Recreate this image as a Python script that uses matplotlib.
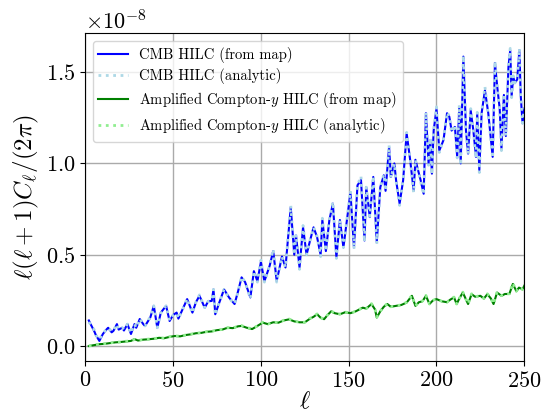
#!/usr/bin/env python3
import matplotlib
matplotlib.use("Agg")
import matplotlib.pyplot as plt

# values (units of 1e-8)
cmb_ell = [2, 3, 5, 6, 8, 10, 12, 13, 15, 16, 18, 19, 21, 22, 24, 26, 28, 29, 31, 33,
           34, 37, 39, 41, 43, 46, 48, 50, 52, 53, 55, 58, 61, 63, 65, 68, 70, 72, 73, 74,
           76, 79, 82, 85, 87, 89, 91, 94, 96, 98, 100, 102, 105, 107, 109, 112, 114, 117, 119, 120,
           122, 124, 126, 128, 130, 132, 134, 135, 137, 139, 141, 143, 145, 147, 151, 153, 155, 157, 159, 160,
           162, 164, 166, 168, 170, 171, 173, 174, 176, 177, 179, 181, 183, 185, 187, 188, 191, 192.7, 194, 195.5,
           196.5, 197.4, 198.4, 200, 201.6, 204, 206, 207.3, 208.6, 210.5, 211.8, 213, 213.8, 215.3, 216.8, 218, 219.5, 221, 222.5, 223.2,
           224.4, 225.7, 227.6, 229.5, 232, 233.3, 234.6, 236, 237, 238.4, 239.5, 241, 242, 242.8, 243.7, 244.6, 246, 247.2, 248, 249,
           250]
cmb_map = [0.14, 0.12, 0.083, 0.06, 0.028, 0.066, 0.09, 0.10, 0.075, 0.083, 0.12, 0.09, 0.10, 0.085, 0.12, 0.066, 0.12, 0.10, 0.148, 0.12,
           0.11, 0.156, 0.22, 0.10, 0.183, 0.22, 0.137, 0.17, 0.183, 0.15, 0.193, 0.257, 0.183, 0.24, 0.275, 0.21, 0.245, 0.247, 0.31, 0.174,
           0.23, 0.31, 0.264, 0.23, 0.30, 0.376, 0.35, 0.266, 0.41, 0.355, 0.46, 0.355, 0.44, 0.52, 0.357, 0.49, 0.43, 0.76, 0.50, 0.605,
           0.43, 0.65, 0.50, 0.578, 0.65, 0.596, 0.50, 0.69, 0.52, 0.69, 0.78, 0.486, 0.69, 0.54, 0.84, 0.54, 0.88, 0.91, 0.578, 0.87,
           0.706, 0.926, 0.568, 0.87, 0.935, 0.85, 1.09, 0.926, 1.0, 0.907, 0.78, 0.907, 1.165, 1.02, 0.85, 1.02, 0.907, 0.834, 1.275, 1.0,
           1.128, 0.944, 1.18, 1.30, 1.07, 1.128, 1.275, 1.256, 1.18, 1.20, 1.036, 1.31, 1.0, 1.585, 1.18, 1.054, 1.29, 1.18, 1.036, 1.275,
           0.963, 1.275, 1.40, 1.275, 1.036, 1.55, 1.42, 1.30, 1.08, 1.375, 1.15, 1.53, 1.62, 1.37, 1.476, 1.44, 1.46, 1.62, 1.37, 1.22,
           1.30]
cmb_analytic = [0.13, 0.12, 0.09, 0.06, 0.035, 0.07, 0.09, 0.10, 0.08, 0.085, 0.12, 0.09, 0.10, 0.09, 0.12, 0.07, 0.12, 0.10, 0.15, 0.12,
                0.11, 0.16, 0.22, 0.10, 0.18, 0.22, 0.14, 0.17, 0.18, 0.15, 0.19, 0.26, 0.18, 0.24, 0.28, 0.21, 0.245, 0.25, 0.31, 0.17,
                0.23, 0.31, 0.26, 0.23, 0.30, 0.38, 0.35, 0.26, 0.41, 0.35, 0.47, 0.35, 0.44, 0.53, 0.35, 0.49, 0.43, 0.77, 0.50, 0.61,
                0.42, 0.66, 0.50, 0.58, 0.65, 0.60, 0.49, 0.70, 0.52, 0.69, 0.79, 0.48, 0.69, 0.54, 0.85, 0.53, 0.88, 0.93, 0.57, 0.87,
                0.71, 0.93, 0.56, 0.87, 0.94, 0.85, 1.10, 0.92, 1.0, 0.90, 0.77, 0.91, 1.17, 1.02, 0.84, 1.02, 0.90, 0.83, 1.28, 0.99,
                1.14, 0.94, 1.19, 1.31, 1.06, 1.13, 1.28, 1.26, 1.17, 1.21, 1.03, 1.32, 0.99, 1.59, 1.17, 1.05, 1.30, 1.18, 1.03, 1.28,
                0.95, 1.28, 1.42, 1.27, 1.03, 1.56, 1.42, 1.30, 1.07, 1.38, 1.15, 1.54, 1.63, 1.36, 1.48, 1.44, 1.46, 1.63, 1.36, 1.22,
                1.30]

y_ell = [2, 5, 8, 11, 14, 17, 20, 23, 26, 28, 30, 33, 36, 39, 42, 45, 48, 51, 54, 57,
         60, 63, 66, 69, 72, 75, 78, 81, 84, 87, 89, 92, 95, 98, 101, 104, 107, 110, 113, 116,
         119, 122, 125, 128, 130, 132, 134, 136, 138, 140, 142, 145, 148, 151, 154, 156, 158, 160, 163, 165,
         166, 168, 170, 172, 174, 177, 180, 183, 186, 188, 190, 192, 194, 196, 198, 200, 203, 206, 208, 210,
         211.5, 213, 215, 218, 220, 222, 225, 227, 229, 231, 232.5, 234.5, 237, 239, 241.5, 243.5, 245.5, 247, 249, 250]
y_map = [0.0, 0.005, 0.01, 0.012, 0.016, 0.02, 0.022, 0.025, 0.028, 0.038, 0.03, 0.035, 0.037, 0.04, 0.045, 0.043, 0.05, 0.055, 0.053, 0.06,
         0.064, 0.07, 0.072, 0.078, 0.08, 0.087, 0.09, 0.10, 0.098, 0.108, 0.11, 0.10, 0.093, 0.11, 0.128, 0.12, 0.13, 0.128, 0.14, 0.146,
         0.135, 0.13, 0.13, 0.15, 0.16, 0.174, 0.155, 0.147, 0.17, 0.19, 0.18, 0.174, 0.185, 0.18, 0.19, 0.20, 0.21, 0.205, 0.23, 0.20,
         0.156, 0.19, 0.215, 0.23, 0.215, 0.22, 0.225, 0.238, 0.275, 0.22, 0.24, 0.245, 0.275, 0.23, 0.25, 0.257, 0.245, 0.24, 0.255, 0.266,
         0.23, 0.26, 0.293, 0.23, 0.284, 0.27, 0.275, 0.26, 0.284, 0.26, 0.23, 0.293, 0.275, 0.285, 0.285, 0.34, 0.30, 0.32, 0.31, 0.33]
y_analytic = [0.0, 0.006, 0.01, 0.013, 0.016, 0.021, 0.022, 0.026, 0.028, 0.036, 0.031, 0.035, 0.038, 0.04, 0.046, 0.043, 0.051, 0.055, 0.054, 0.06,
              0.065, 0.07, 0.073, 0.078, 0.081, 0.087, 0.091, 0.10, 0.099, 0.108, 0.112, 0.10, 0.095, 0.11, 0.13, 0.12, 0.131, 0.128, 0.141, 0.148,
              0.135, 0.131, 0.13, 0.152, 0.16, 0.176, 0.155, 0.148, 0.17, 0.192, 0.18, 0.175, 0.186, 0.18, 0.19, 0.20, 0.212, 0.205, 0.232, 0.20,
              0.158, 0.19, 0.216, 0.232, 0.215, 0.221, 0.225, 0.24, 0.277, 0.22, 0.24, 0.246, 0.277, 0.23, 0.25, 0.258, 0.245, 0.24, 0.256, 0.268,
              0.23, 0.26, 0.295, 0.23, 0.286, 0.27, 0.276, 0.26, 0.286, 0.26, 0.23, 0.296, 0.276, 0.286, 0.286, 0.345, 0.30, 0.322, 0.31, 0.335]

plt.rcParams["font.family"] = "serif"
plt.rcParams["font.serif"] = ["cmr10"]
plt.rcParams["mathtext.fontset"] = "cm"
plt.rcParams["axes.formatter.use_mathtext"] = True
plt.rcParams["axes.unicode_minus"] = False

fig = plt.figure(figsize=(5.48, 4.12), dpi=100)
ax = fig.add_axes([0.1557, 0.124, 0.8010, 0.7947])

scale = 1e-8
ax.plot(cmb_ell, [v * scale for v in cmb_map], color="blue", lw=1.5, label="CMB HILC (from map)")
ax.plot(cmb_ell, [v * scale for v in cmb_analytic], color="lightblue", ls=":", lw=2, label="CMB HILC (analytic)")
ax.plot(y_ell, [v * scale for v in y_map], color="green", lw=1.5,
        label="Amplified Compton-$y$ HILC (from map)")
ax.plot(y_ell, [v * scale for v in y_analytic], color="lightgreen", ls=":", lw=2,
        label="Amplified Compton-$y$ HILC (analytic)")

ax.set_xlim(0, 250)
ax.grid(True, color="#aaaaaa", lw=1.0)
ax.tick_params(labelsize=16)
ax.yaxis.get_offset_text().set_fontsize(16)
ax.set_xlabel(r"$\ell$", fontsize=18, labelpad=0)
ax.set_ylabel(r"$\ell(\ell+1)C_\ell/(2\pi)$", fontsize=18)
ax.legend(loc="upper left", fontsize=10.5, labelspacing=0.4, handlelength=2.0)

fig.savefig("out.png", dpi=100)
